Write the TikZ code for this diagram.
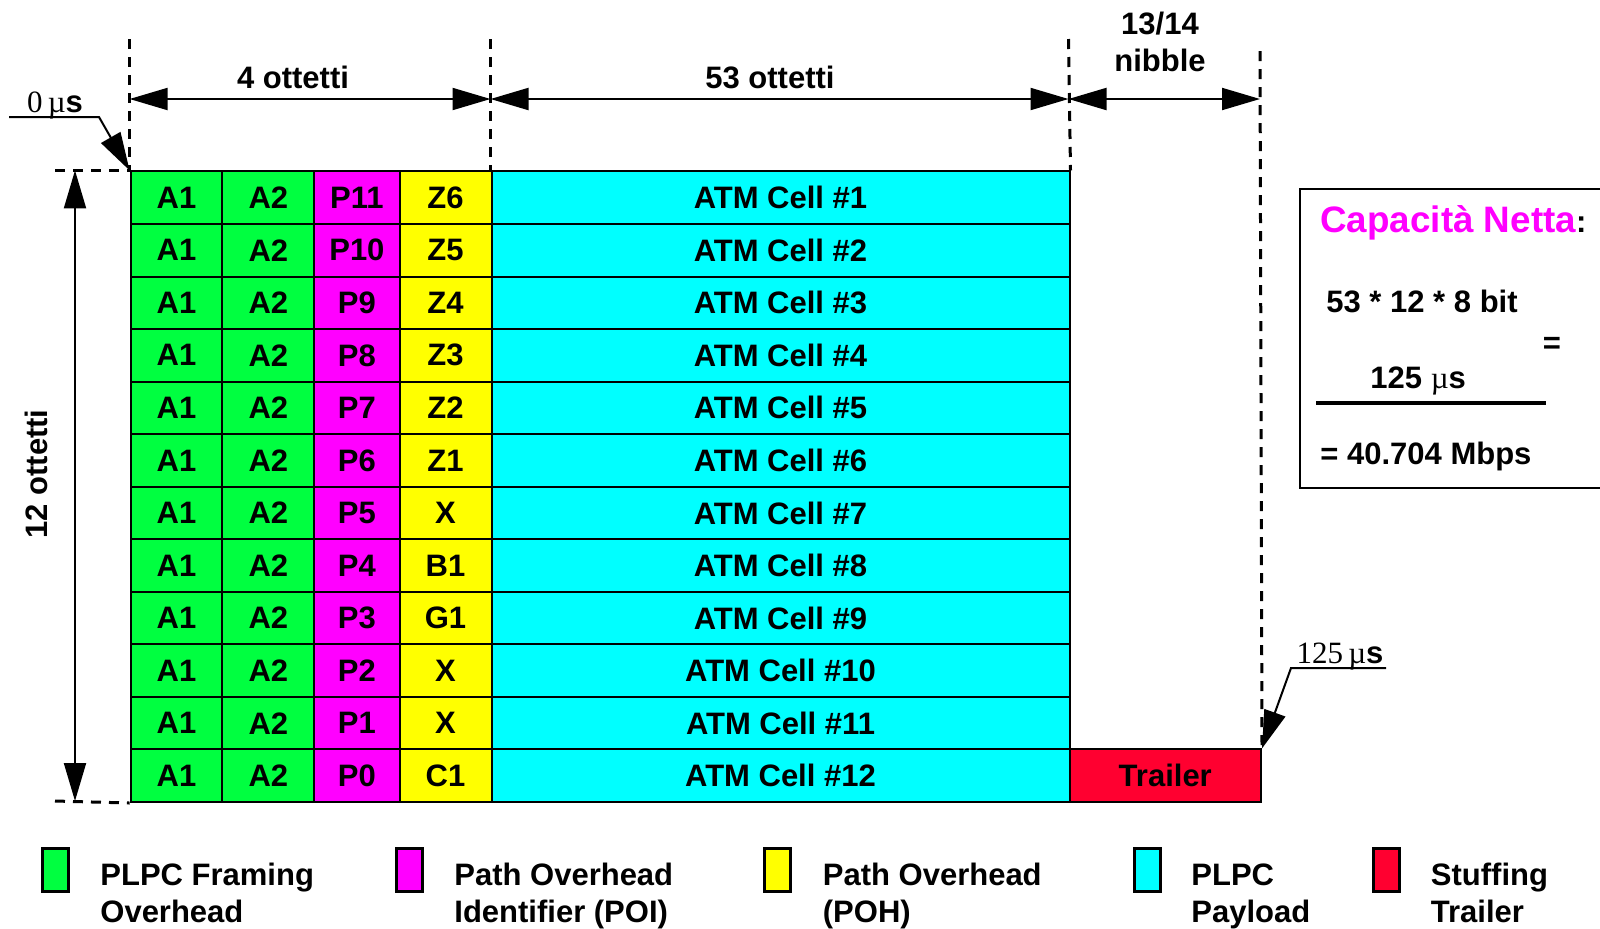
\documentclass[tikz,border=0pt]{standalone}
\usepackage{fontspec}
\setmainfont{Liberation Sans}
\newfontfamily\seriffont{Liberation Serif}
\usetikzlibrary{arrows.meta,calc}
\definecolor{cgreen}{HTML}{00FF40}
\definecolor{cmag}{HTML}{FF00FF}
\definecolor{cyel}{HTML}{FFFF00}
\definecolor{ccyan}{HTML}{00FFFF}
\definecolor{cred}{HTML}{FF0030}
\begin{document}
\begin{tikzpicture}[x=0.5pt,y=-0.5pt,
  font=\fontsize{15.5}{18.25}\selectfont\bfseries,
  cell/.style={draw, line width=1pt, inner sep=0pt, minimum height=26.275pt, anchor=north west},
  bigtip/.tip={Triangle[length=19pt,width=11pt]},
  dim/.style={line width=1pt, bigtip-bigtip},
  lead/.style={line width=1pt, -bigtip},
  guide/.style={line width=1.5pt, dash pattern=on 5pt off 4pt},
  lbl/.style={inner sep=0pt},
  legbox/.style={draw, line width=1.5pt, minimum width=13pt, minimum height=21.5pt, inner sep=0pt},
  legtxt/.style={inner sep=0pt, anchor=west, align=left}]
\useasboundingbox (0,0) rectangle (1600,928);
\clip (0,0) rectangle (1600,928);

% grid
\foreach \i/\p/\z in {1/P11/Z6, 2/P10/Z5, 3/P9/Z4, 4/P8/Z3, 5/P7/Z2, 6/P6/Z1,
                      7/P5/X, 8/P4/B1, 9/P3/G1, 10/P2/X, 11/P1/X, 12/P0/C1} {
  \pgfmathsetmacro\yy{170.4+(\i-1)*52.55}
  \node[cell, fill=cgreen, minimum width=45.9pt]  (a1-\i) at (129.6,\yy) {A1};
  \node[cell, fill=cgreen, minimum width=45.95pt] (a2-\i) at (221.4,\yy) {A2};
  \node[cell, fill=cmag,   minimum width=42.6pt]  (p-\i)  at (313.3,\yy) {\p};
  \node[cell, fill=cyel,   minimum width=46pt]    (z-\i)  at (398.5,\yy) {\z};
  \node[cell, fill=ccyan,  minimum width=289pt]   (atm-\i) at (490.5,\yy) {ATM Cell \#\i};
}
\node[cell, fill=cred, minimum width=95.75pt] (trailer) at (1068.5,748.45) {Trailer};

% guides
\coordinate (t1) at (129.6,39);
\coordinate (t2) at (490.5,39);
\coordinate (t3) at (1068.5,39);
\coordinate (t4) at (1260,51);
\draw[guide] (t1) -- (a1-1.north west);
\draw[guide] (t2) -- (atm-1.north west);
\draw[guide] (t3) -- (atm-1.north east);
\draw[guide] (t4) -- (trailer.north east);
\coordinate (h1) at (55,170.4);
\coordinate (h2) at (55,801);
\draw[guide] (h1) -- (a1-1.north west);
\draw[guide] (h2) -- (a1-12.south west);

% dimension arrows
\coordinate (d1) at (129.6,99);
\coordinate (d2) at (490.5,99);
\coordinate (d3) at (1068.5,99);
\coordinate (d4) at (1260,99);
\draw[dim] (d1) -- (d2);
\draw[dim] (d2) -- (d3);
\draw[dim] (d3) -- (d4);
\node[lbl] (l4) at (293,77) {4 ottetti};
\node[lbl] (l53) at (770,77) {53 ottetti};
\node[lbl, align=center] (lnib) at (1160,42) {13/14\\nibble};
\coordinate (v1) at (75,170.4);
\coordinate (v2) at (75,801);
\draw[dim] (v1) -- (v2);
\node[lbl, rotate=90] (l12) at (36,474) {12 ottetti};

% time markers
\node[lbl] (t0) at (55,105) {{\seriffont\mdseries 0\,µ}s};
\coordinate (u1) at (9,117);
\coordinate (u2) at (99,117);
\draw[lead] (u1) -- (u2) -- (a1-1.north west);
\node[lbl] (t125) at (1340,657) {{\seriffont\mdseries 125\,µ}s};
\coordinate (w1) at (1386,668);
\coordinate (w2) at (1291,668);
\draw[lead] (w1) -- (w2) -- (trailer.north east);

% capacity box
\coordinate (b1) at (1300,189);
\coordinate (b2) at (1610,488);
\draw[line width=1pt] (b1) rectangle (b2);
\node[lbl, anchor=west] (cap) at (1320,223) {\textcolor{cmag}{\fontsize{18.4}{20}\selectfont Capacità Netta}:};
\node[lbl, anchor=west] (num) at (1326,301) {53 * 12 * 8 bit};
\node[lbl] (eq) at (1552,345) {=};
\node[lbl, anchor=west] (den) at (1370,381) {125 {\seriffont\mdseries µ}s};
\coordinate (f1) at (1316,403);
\coordinate (f2) at (1546,403);
\draw[line width=2pt] (f1) -- (f2);
\node[lbl, anchor=west] (res) at (1320,456) {= 40.704 Mbps};

% legend
\node[legbox, fill=cgreen] (k1) at (55,870) {};
\node[legbox, fill=cmag]   (k2) at (409,870) {};
\node[legbox, fill=cyel]   (k3) at (777.5,870) {};
\node[legbox, fill=ccyan]  (k4) at (1147,870) {};
\node[legbox, fill=cred]   (k5) at (1386.5,870) {};
\node[legtxt] (kt1) at (100,896.5) {\strut PLPC Framing\\\strut Overhead};
\node[legtxt] (kt2) at (454,896.5) {\strut Path Overhead\\\strut Identifier (POI)};
\node[legtxt] (kt3) at (822.5,896.5) {\strut Path Overhead\\\strut (POH)};
\node[legtxt] (kt4) at (1191,896.5) {\strut PLPC\\\strut Payload};
\node[legtxt] (kt5) at (1430.5,896.5) {\strut Stuffing\\\strut Trailer};
\end{tikzpicture}
\end{document}
